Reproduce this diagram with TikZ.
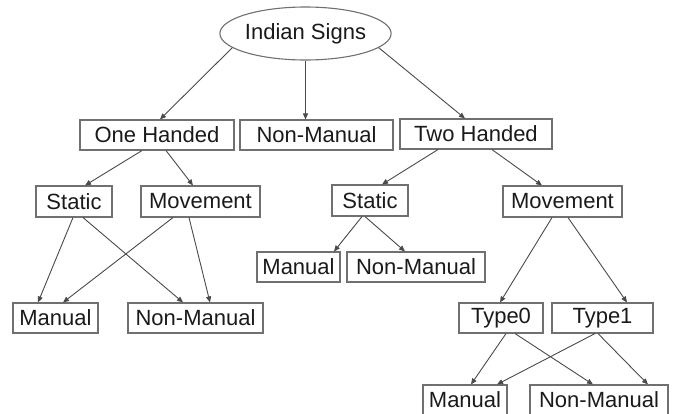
\documentclass[tikz,border=0pt]{standalone}
\usepackage{fontspec}
\setmainfont{Liberation Sans}
\usetikzlibrary{shapes.geometric,arrows.meta}
\definecolor{linec}{HTML}{4A4A4A}
\definecolor{boxc}{HTML}{707070}
\definecolor{txtc}{HTML}{1A1A1A}
\tikzset{
  box/.style={draw=boxc, line width=1.1pt, rectangle, inner sep=0pt, minimum height=30pt,
    font=\fontsize{22}{24}\selectfont, text=txtc},
  oval/.style={draw=boxc, line width=1.1pt, ellipse, inner sep=0pt,
    font=\fontsize{22}{24}\selectfont, text=txtc},
  conn/.style={draw=linec, line width=0.9pt, -{Triangle[length=6pt,width=5pt]}}
}
\begin{document}
\begin{tikzpicture}[x=1pt,y=-1pt]
\useasboundingbox (0,0) rectangle (674,413);
\node[oval, minimum width=143pt, minimum height=53pt] (root) at (305.5,33.5) {Indian Signs};
\node[box, minimum width=154pt] (oh) at (157,135) {One Handed};
\node[box, minimum width=153pt] (nmA) at (316.5,135) {Non-Manual};
\node[box, minimum width=152pt] (th) at (476,134) {Two Handed};
\node[box, minimum width=76pt, minimum height=31pt] (sA) at (74,201.5) {Static};
\node[box, minimum width=119pt, minimum height=31pt] (mA) at (200.5,201.5) {Movement};
\node[box, minimum width=76pt, minimum height=31pt] (sB) at (370,200.5) {Static};
\node[box, minimum width=119pt, minimum height=31pt] (mB) at (562.5,201.5) {Movement};
\node[box, minimum width=83pt] (maB) at (298.5,267) {Manual};
\node[box, minimum width=138pt] (nmB) at (416,267) {Non-Manual};
\node[box, minimum width=85pt] (maA) at (55.5,318) {Manual};
\node[box, minimum width=135pt] (nmC) at (195.5,318) {Non-Manual};
\node[box, minimum width=84pt] (tz) at (501,318) {Type0};
\node[box, minimum width=101pt] (to) at (602.5,318) {Type1};
\node[box, minimum width=84pt] (maC) at (465,400) {Manual};
\node[box, minimum width=138pt] (nmD) at (599,400) {Non-Manual};

\draw[conn] (root.191) -- ([xshift=3pt]oh.north);
\draw[conn] (root.south) -- (root.south |- nmA.north);
\draw[conn] (root.349) -- ([xshift=-11pt]th.north);
\draw[conn] ([xshift=-15pt]oh.south) -- ([xshift=11pt]sA.north);
\draw[conn] ([xshift=9pt]oh.south) -- ([xshift=-7.5pt]mA.north);
\draw[conn] ([xshift=-38pt]th.south) -- ([xshift=12pt]sB.north);
\draw[conn] ([xshift=16pt]th.south) -- ([xshift=-20.5pt]mB.north);
\draw[conn] ([xshift=-1pt]sA.south) -- ([xshift=-17.5pt]maA.north);
\draw[conn] ([xshift=9pt]sA.south) -- ([xshift=-12.5pt]nmC.north);
\draw[conn] ([xshift=-27.5pt]mA.south) -- ([xshift=7.5pt]maA.north);
\draw[conn] ([xshift=-11.5pt]mA.south) -- ([xshift=14.5pt]nmC.north);
\draw[conn] ([xshift=-8pt]sB.south) -- ([xshift=35.5pt]maB.north);
\draw[conn] ([xshift=-5pt]sB.south) -- ([xshift=-11pt]nmB.north);
\draw[conn] ([xshift=-10.5pt]mB.south) -- ([xshift=-1pt]tz.north);
\draw[conn] ([xshift=5.5pt]mB.south) -- ([xshift=24.5pt]to.north);
\draw[conn] ([xshift=5pt]tz.south) -- ([xshift=6pt]maC.north);
\draw[conn] ([xshift=14pt]tz.south) -- ([xshift=-6pt]nmD.north);
\draw[conn] ([xshift=-7.5pt]to.south) -- ([xshift=32pt]maC.north);
\draw[conn] ([xshift=-4.5pt]to.south) -- ([xshift=49pt]nmD.north);
\end{tikzpicture}
\end{document}
